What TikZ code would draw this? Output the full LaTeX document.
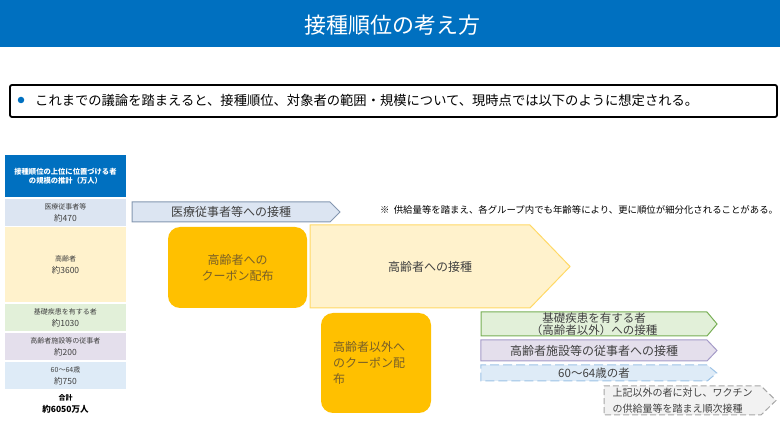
\documentclass[tikz,border=0pt]{standalone}
\usepackage{fontspec}
\setmainfont{Noto Sans CJK JP}
\usetikzlibrary{shapes.symbols}
\definecolor{hdrblue}{RGB}{0,112,192}
\definecolor{txtgray}{RGB}{64,64,64}
\definecolor{cpngold}{RGB}{255,192,0}
\definecolor{cpntxt}{RGB}{120,95,40}
\definecolor{iryofill}{RGB}{220,229,242}
\definecolor{iryoline}{RGB}{132,151,176}
\definecolor{koreifill}{RGB}{255,242,204}
\definecolor{koreiline}{RGB}{255,217,102}
\definecolor{kisofill}{RGB}{226,240,217}
\definecolor{kisoline}{RGB}{120,175,85}
\definecolor{shisetsufill}{RGB}{228,223,236}
\definecolor{shisetsuline}{RGB}{165,155,200}
\definecolor{rokujufill}{RGB}{222,235,247}
\definecolor{rokujuline}{RGB}{157,195,230}
\definecolor{sonotafill}{RGB}{242,242,242}
\definecolor{sonotaline}{RGB}{166,166,166}

\begin{document}
\begin{tikzpicture}[x=1pt, y=-1pt,
    rowbox/.style={minimum width=121pt, inner sep=0pt, align=center, text=txtgray},
    chevron/.style={signal, signal to=east, draw, line width=1pt, inner sep=0pt, align=center, text=txtgray, font=\fontsize{12}{14}\selectfont},
    coupon/.style={fill=cpngold, rounded corners=12pt, inner sep=0pt, text=cpntxt, font=\fontsize{12}{16}\selectfont}
]
\useasboundingbox (0,0) rectangle (780,438);

% Title bar
\fill[hdrblue] (0,0) rectangle (780,47);
\node[text=white, font=\fontsize{22}{26}\selectfont] (title) at (392,25) {接種順位の考え方};

% Summary box
\node[draw=black, line width=1.8pt, rounded corners=2pt, minimum width=767pt, minimum height=32pt, inner sep=0pt] (summary) at (393.5,101) {};
\node[circle, fill=hdrblue, inner sep=0pt, minimum size=6.5pt] (dot) at (21,100) {};
\node[anchor=west, inner sep=0pt, font=\fontsize{13.3}{15}\selectfont, text=black] (summarytxt) at (35,100) {これまでの議論を踏まえると、接種順位、対象者の範囲・規模について、現時点では以下のように想定される。};

% Left column: scale of each group
\node[rowbox, fill=hdrblue, text=white, minimum height=42pt, font=\bfseries\fontsize{7.3}{9.5}\selectfont] (scalehdr) at (65.5,176) {接種順位の上位に位置づける者\\の規模の推計（万人）};
\node[rowbox, fill=iryofill, minimum height=27pt] (rowiryo) at (65.5,212.5) {\fontsize{7}{10}\selectfont 医療従事者等\\\fontsize{8.5}{10}\selectfont 約470};
\node[rowbox, fill=koreifill, minimum height=75pt] (rowkorei) at (65.5,264.5) {\fontsize{7}{10}\selectfont 高齢者\\\fontsize{8.5}{10}\selectfont 約3600};
\node[rowbox, fill=kisofill, minimum height=27pt] (rowkiso) at (65.5,317.5) {\fontsize{7}{10}\selectfont 基礎疾患を有する者\\\fontsize{8.5}{10}\selectfont 約1030};
\node[rowbox, fill=shisetsufill, minimum height=27pt] (rowshisetsu) at (65.5,346.5) {\fontsize{7}{10}\selectfont 高齢者施設等の従事者\\\fontsize{8.5}{10}\selectfont 約200};
\node[rowbox, fill=rokujufill, minimum height=27pt] (rowrokuju) at (65.5,375.5) {\fontsize{7}{10}\selectfont 60～64歳\\\fontsize{8.5}{10}\selectfont 約750};
\node[rowbox, text=black, font=\bfseries] (total) at (65.5,403.5) {\fontsize{7}{10}\selectfont 合計\\\fontsize{8.5}{11}\selectfont 約6050万人};

% Note
\node[anchor=west, inner sep=0pt, text=black, font=\fontsize{9.4}{11}\selectfont] (note) at (380,210) {※\ \ 供給量等を踏まえ、各グループ内でも年齢等により、更に順位が細分化されることがある。};

% Vaccination chevrons
\node[chevron, fill=iryofill, draw=iryoline, minimum width=208pt, minimum height=20pt, signal pointer angle=90] (iryo) at (231,212) {医療従事者等への接種};
\node[chevron, fill=koreifill, draw=koreiline, minimum width=260pt, minimum height=83pt, signal pointer angle=92] (korei) at (420,266.5) {\hspace*{20pt}高齢者への接種};
\node[chevron, fill=kisofill, draw=kisoline, minimum width=236pt, minimum height=24pt, signal pointer angle=100, font=\fontsize{11.5}{12.5}\selectfont] (kiso) at (594,324) {基礎疾患を有する者\\（高齢者以外）への接種};
\node[chevron, fill=shisetsufill, draw=shisetsuline, minimum width=236pt, minimum height=21pt, signal pointer angle=93] (shisetsu) at (594,350.5) {高齢者施設等の従事者への接種};
\node[chevron, fill=rokujufill, draw=rokujuline, dash pattern=on 9pt off 4pt, minimum width=236pt, minimum height=16pt, signal pointer angle=80, font=\fontsize{11.5}{13}\selectfont] (rokuju) at (594,373) {60～64歳の者};
\node[chevron, fill=sonotafill, draw=sonotaline, dash pattern=on 6pt off 3pt, minimum width=172pt, minimum height=29pt, signal pointer angle=88, align=left, font=\fontsize{10}{15.5}\selectfont] (sonota) at (682.5,400.5) {上記以外の者に対し、ワクチン\\の供給量等を踏まえ順次接種};

% Coupon boxes
\node[coupon, minimum width=139pt, minimum height=81pt, align=center] (cpnkorei) at (237.5,267.5) {高齢者への\\クーポン配布};
\node[coupon, minimum width=110pt, minimum height=100pt, text width=86pt, align=left] (cpnother) at (376,363) {高齢者以外へ\\のクーポン配\\布};
\end{tikzpicture}
\end{document}
